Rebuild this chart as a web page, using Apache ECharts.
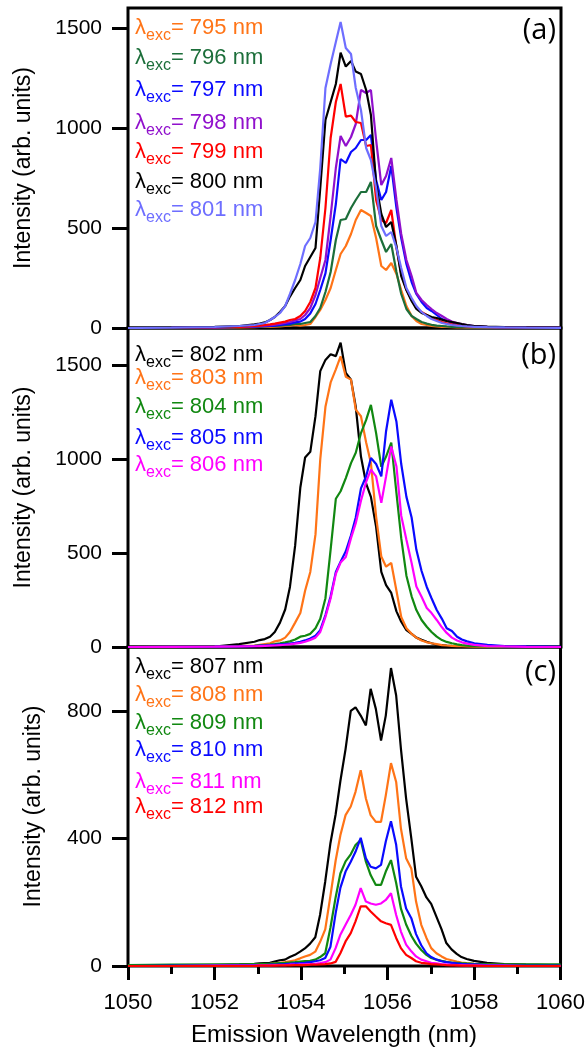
<!DOCTYPE html>
<html>
<head>
<meta charset="utf-8">
<script src="https://cdn.jsdelivr.net/npm/echarts@6/dist/echarts.min.js"></script>
<style>
html,body{margin:0;padding:0;background:#fff;}
#c{width:588px;height:1050px;}
</style>
</head>
<body>
<div id="c"></div>
<script>
// Emission wavelength grid (nm)
var wl = [1050.00,1051.00,1052.00,1052.57,1052.92,1053.04,1053.16,1053.28,1053.39,1053.51,
          1053.63,1053.74,1053.86,1053.98,1054.09,1054.21,1054.33,1054.44,1054.56,1054.68,
          1054.80,1054.91,1055.03,1055.15,1055.26,1055.38,1055.50,1055.61,1055.73,1055.85,
          1055.96,1056.08,1056.20,1056.31,1056.43,1056.55,1056.66,1056.78,1056.90,1057.01,
          1057.13,1057.25,1057.36,1057.48,1057.60,1057.71,1057.83,1058.00,1058.30,1058.70,
          1059.20,1060.00];

// Panel (a)
var a795 = [0,0,2,3,4,5,5,6,7,8, 10,12,15,12,15,20,55,90,140,200, 290,370,410,470,540,590,575,560,450,310, 290,325,270,190,110,60,35,20,15,10, 8,6,5,4,3,3,2,2,1,1, 0,0];
var a796 = [0,1,3,5,6,7,8,9,10,12, 14,16,20,20,25,30,60,100,180,280, 440,540,545,600,640,680,680,730,510,440, 380,420,280,170,95,60,45,30,22,16, 12,10,8,6,5,4,3,3,2,1, 1,0];
var a797 = [0,1,3,5,7,8,9,10,12,15, 18,22,28,32,45,73,120,190,273,440, 620,845,825,880,900,940,940,965,740,640, 680,810,600,450,320,230,170,130,100,85, 65,45,35,28,20,15,12,8,5,3, 2,1];
var a798 = [0,1,3,5,8,10,12,14,17,20, 25,30,38,45,65,100,165,250,340,560, 800,960,910,955,1020,1190,1175,1190,940,715, 760,850,640,470,340,260,175,140,115,95, 75,60,45,32,25,20,15,10,6,4, 2,1];
var a799 = [0,1,4,6,10,12,15,18,22,27, 32,40,45,60,85,130,200,350,600,950, 1130,1220,1057,1062,1030,1025,910,915,640,540, 525,590,400,270,190,140,100,80,65,50, 40,30,23,18,14,10,8,6,4,3, 2,1];
var a800 = [0,2,6,10,18,22,28,40,55,80, 110,157,200,240,310,355,400,700,1040,1130, 1220,1377,1307,1335,1282,1270,1190,1065,720,570, 505,530,410,260,190,135,95,75,65,55, 50,42,35,30,25,20,15,10,7,4, 3,2];
var a801 = [0,2,5,10,15,20,25,40,55,75, 110,170,240,320,410,450,530,800,1200,1320, 1430,1530,1400,1370,1200,1090,900,840,700,510, 460,480,400,300,200,150,110,80,60,45, 35,25,20,15,12,10,8,6,4,3, 2,1];

// Panel (b)
var b802 = [0,1,2,15,28,37,42,55,80,130, 200,320,540,850,1010,1040,1230,1470,1530,1560, 1550,1622,1460,1425,1280,1015,870,800,640,400, 330,288,190,135,90,70,50,38,28,20, 12,10,8,6,5,4,3,2,1,1, 0,0];
var b803 = [0,1,2,5,8,12,16,20,30,35, 50,80,130,181,300,400,600,1000,1280,1410, 1480,1549,1440,1425,1265,1230,1090,980,695,482, 428,448,300,160,100,70,50,35,25,20, 15,10,8,6,5,4,3,2,1,1, 0,0];
var b804 = [0,1,2,4,6,8,10,13,16,20, 25,30,40,55,60,70,100,150,260,520, 790,830,900,980,1035,1140,1210,1290,1140,960, 1015,1089,820,580,380,270,197,144,108,80, 55,37,27,20,14,10,7,5,3,2, 1,0];
var b805 = [0,1,2,3,5,7,8,10,12,14, 16,18,22,28,35,45,60,90,170,270, 400,455,510,595,690,845,910,1007,975,909, 1150,1318,1200,975,800,690,518,405,320,260, 197,150,100,85,55,40,30,20,11,5, 3,1];
var b806 = [0,1,2,3,4,5,6,7,8,10, 12,14,18,22,28,38,50,80,160,260, 390,450,480,580,660,780,880,945,909,768, 909,1069,962,700,571,448,322,268,208,181, 144,105,75,50,35,25,18,11,5,3, 1,0];

// Panel (c)
var c807 = [0,2,3,5,7,8,9,10,14,18, 20,28,35,45,55,70,90,160,265,385, 475,580,680,800,811,785,754,869,806,707, 785,934,848,681,525,400,280,250,215,195, 155,115,72,52,38,28,22,16,10,6, 4,2];
var c808 = [0,1,2,3,4,5,6,7,8,10, 12,15,18,24,30,35,45,75,115,220, 330,410,473,500,546,614,525,473,452,452, 535,636,577,431,338,306,202,129,88,56, 40,30,22,18,14,11,9,7,5,3, 2,1];
var c809 = [3,4,5,5,6,6,7,7,8,9, 10,11,12,14,15,16,20,28,40,120, 215,290,328,350,379,395,327,285,254,254, 296,332,260,180,130,95,70,50,35,25, 20,16,13,11,10,9,8,7,6,5, 5,5];
var c810 = [0,1,1,2,2,3,3,4,4,5, 6,7,8,9,10,12,15,18,25,60, 165,245,296,327,358,402,338,311,306,317, 390,454,380,250,180,150,100,65,40,28, 20,15,12,10,8,7,6,5,3,2, 1,1];
var c811 = [0,0,1,1,1,2,2,2,3,3, 3,4,4,5,5,6,7,9,12,20, 56,98,129,160,192,244,202,196,192,196, 207,228,160,108,67,46,30,20,15,10, 8,6,5,4,3,3,2,2,1,1, 0,0];
var c812 = [0,0,0,0,0,1,1,1,1,2, 2,2,3,3,3,4,4,5,6,8, 13,40,77,103,140,187,187,171,155,140, 134,129,88,56,35,25,15,10,8,6, 5,4,3,2,2,1,1,1,0,0, 0,0];

// Excitation wavelength labels
var excA = ['795','796','797','798','799','800','801'];
var excB = ['802','803','804','805','806'];
var excC = ['807','808','809','810','811','812'];
var dataA = [a795,a796,a797,a798,a799,a800,a801];
var dataB = [b802,b803,b804,b805,b806];
var dataC = [c807,c808,c809,c810,c811,c812];

// Axis tick labels
var xTicks = [1050,1052,1054,1056,1058,1060];
var yTicksA = [0,500,1000,1500];
var yTicksB = [0,500,1000,1500];
var yTicksC = [0,400,800];
var panelTags = ['(a)','(b)','(c)'];

// styles
var colA = ['#ff7417','#1c6e3a','#0a0aff','#9010cc','#ff0000','#000000','#6e6eff'];
var colB = ['#000000','#ff7417','#118811','#0a0aff','#ff00ff'];
var colC = ['#000000','#ff7417','#118811','#0a0aff','#ff00ff','#ff0000'];
var legY = [[28,58,90,123,152,182,210],[355,378,407,438,465],[667,695,723,750,782,807]];
var FONT = 'Liberation Sans';

var grids = [
  {left:128, right:27, top:8, height:320},
  {left:128, right:27, top:328, height:319},
  {left:128, right:27, top:647, height:319}
];
grids.forEach(function(g){ g.show = true; g.borderColor = '#000'; g.borderWidth = 3; g.backgroundColor = 'transparent'; });

function plain(v){ return String(v); }

var xAxes = [0,1,2].map(function(i){
  var bottom = (i === 2);
  return {
    type:'value', gridIndex:i, min:1050, max:1060, interval:2,
    axisLine:{show:false},
    axisTick:{show:bottom, length:14, lineStyle:{color:'#000', width:3}},
    minorTick:{show:bottom, splitNumber:2, length:8, lineStyle:{color:'#000', width:3}},
    axisLabel:{show:bottom, fontSize:22, color:'#000', fontFamily:FONT, margin:26, customValues:xTicks, formatter:plain},
    splitLine:{show:false}
  };
});

var yMax = [1600,1700,1000];
var yTicks = [yTicksA,yTicksB,yTicksC];
var nameGaps = [93,93,83];
var yAxes = [0,1,2].map(function(i){
  return {
    type:'value', gridIndex:i, min:0, max:yMax[i],
    name:'Intensity (arb. units)', nameLocation:'middle', nameGap:nameGaps[i],
    nameTextStyle:{fontSize:23, color:'#000', fontFamily:FONT},
    axisLine:{show:false},
    axisTick:{show:true, length:16, customValues:yTicks[i], lineStyle:{color:'#000', width:3}},
    axisLabel:{fontSize:21, color:'#000', fontFamily:FONT, margin:26, customValues:yTicks[i], formatter:plain},
    splitLine:{show:false}
  };
});

var series = [];
function addSeries(arrs, names, cols, gi){
  arrs.forEach(function(arr, k){
    series.push({
      type:'line', name:names[k], xAxisIndex:gi, yAxisIndex:gi,
      data: wl.map(function(x, j){ return [x, arr[j]]; }),
      showSymbol:false, symbol:'none', smooth:false,
      lineStyle:{color:cols[k], width:2.2}, itemStyle:{color:cols[k]},
      z: 2 + k
    });
  });
}
addSeries(dataA, excA, colA, 0);
addSeries(dataB, excB, colB, 1);
addSeries(dataC, excC, colC, 2);

var graphics = [];
function addLegend(names, cols, ys){
  names.forEach(function(n, k){
    var c = cols[k];
    graphics.push({
      type:'text', x:135, y:ys[k], z:100,
      style:{
        text:'{l|λ}{s|exc}{m|= ' + n + ' nm}',
        textVerticalAlign:'middle', textAlign:'left',
        fill:c,
        rich:{
          l:{fontSize:22, fontFamily:FONT, fill:c, lineHeight:32, verticalAlign:'middle'},
          s:{fontSize:16, fontFamily:FONT, fill:c, lineHeight:16, verticalAlign:'bottom'},
          m:{fontSize:22, fontFamily:FONT, fill:c, lineHeight:32, verticalAlign:'middle'}
        }
      }
    });
  });
}
addLegend(excA, colA, legY[0]);
addLegend(excB, colB, legY[1]);
addLegend(excC, colC, legY[2]);

var tagY = [31, 356, 673];
panelTags.forEach(function(t, i){
  graphics.push({type:'text', x:556, y:tagY[i], z:100,
    style:{text:t, fontSize:29, fontFamily:'Open Sans', fill:'#000', textAlign:'right', textVerticalAlign:'middle'}});
});
graphics.push({type:'text', x:334, y:1035, z:100,
  style:{text:'Emission Wavelength (nm)', fontSize:24, fontFamily:FONT, fill:'#000', textAlign:'center', textVerticalAlign:'middle'}});

var chart = echarts.init(document.getElementById('c'), null, {renderer:'canvas'});
chart.setOption({
  animation:false,
  backgroundColor:'#fff',
  grid:grids, xAxis:xAxes, yAxis:yAxes, series:series, graphic:graphics
});
</script>
</body>
</html>
